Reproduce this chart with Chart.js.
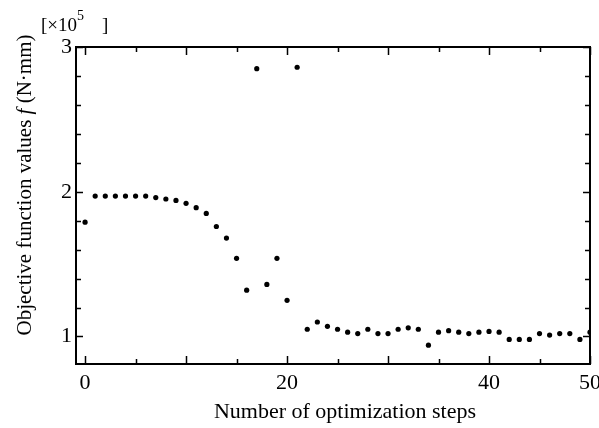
<!DOCTYPE html>
<html>
<head>
<meta charset="utf-8">
<script src="https://cdn.jsdelivr.net/npm/chart.js@4.4.1/dist/chart.umd.min.js"></script>
<style>
  body { margin: 0; background: #fff; }
  #wrap { width: 599px; height: 428px; position: relative; }
</style>
</head>
<body>
<div id="wrap"><canvas id="optChart"></canvas></div>
<script>
// optimization history, f in units of 1e5 N.mm
var steps = [0, 1, 2, 3, 4, 5, 6, 7, 8, 9, 10, 11, 12, 13, 14, 15, 16, 17, 18, 19, 20,
  21, 22, 23, 24, 25, 26, 27, 28, 29, 30, 31, 32, 33, 34, 35, 36, 37, 38, 39, 40,
  41, 42, 43, 44, 45, 46, 47, 48, 49, 50];
var fValues = [1.79, 1.97, 1.97, 1.97, 1.97, 1.97, 1.97, 1.96, 1.95, 1.94, 1.92,
  1.89, 1.85, 1.76, 1.68, 1.54, 1.32, 2.85, 1.36, 1.54, 1.25,
  2.86, 1.05, 1.10, 1.07, 1.05, 1.03, 1.02, 1.05, 1.02, 1.02,
  1.05, 1.06, 1.05, 0.94, 1.03, 1.04, 1.03, 1.02, 1.03, 1.035,
  1.03, 0.98, 0.98, 0.98, 1.02, 1.01, 1.02, 1.02, 0.98, 1.03];

var xTicks = [0, 5, 10, 15, 20, 25, 30, 35, 40, 45, 50];
var xLabels = [0, 20, 40, 50];
var yTicks = [1.0, 1.2, 1.4, 1.6, 1.8, 2.0, 2.2, 2.4, 2.6, 2.8, 3.0];
var yLabels = [1, 2, 3];

var xTitle = "Number of optimization steps";
var yTitle = ["Objective function values ", "f", " (N\u00b7mm)"];

var FONT = "'Liberation Serif', 'DejaVu Serif', serif";

var points = [];
for (var i = 0; i < steps.length; i++) {
  points.push({ x: steps[i], y: fValues[i] });
}

function isLabel(list, v) {
  for (var k = 0; k < list.length; k++) {
    if (Math.abs(list[k] - v) < 1e-6) return true;
  }
  return false;
}

// frame, inward ticks on all four sides, and the titles
var framePlugin = {
  id: "frame",
  afterDatasetsDraw: function (chart) {
    var ctx = chart.ctx;
    var a = chart.chartArea;
    var xs = chart.scales.x, ys = chart.scales.y;
    ctx.save();
    ctx.strokeStyle = "#000";
    ctx.lineWidth = 2;
    ctx.strokeRect(a.left, a.top, a.right - a.left, a.bottom - a.top);

    ctx.lineWidth = 1.5;
    ctx.beginPath();
    xTicks.forEach(function (v) {
      var px = Math.round(xs.getPixelForValue(v)) + 0.5;
      var len = (v % 10 === 0) ? 8 : 5;
      ctx.moveTo(px, a.bottom); ctx.lineTo(px, a.bottom - len);
      ctx.moveTo(px, a.top); ctx.lineTo(px, a.top + len);
    });
    yTicks.forEach(function (v) {
      var py = Math.round(ys.getPixelForValue(v)) + 0.5;
      var len = isLabel(yLabels, v) ? 7 : 5;
      ctx.moveTo(a.left, py); ctx.lineTo(a.left + len, py);
      ctx.moveTo(a.right, py); ctx.lineTo(a.right - len, py);
    });
    ctx.stroke();

    ctx.fillStyle = "#000";
    ctx.textBaseline = "alphabetic";

    // x axis title
    ctx.font = "22px " + FONT;
    ctx.textAlign = "center";
    ctx.fillText(xTitle, 345, 418);

    // y axis title with italic f
    ctx.textAlign = "left";
    var fn = "21px " + FONT, fi = "italic 21px " + FONT;
    ctx.font = fn;
    var w1 = ctx.measureText(yTitle[0]).width, w3 = ctx.measureText(yTitle[2]).width;
    ctx.font = fi;
    var w2 = ctx.measureText(yTitle[1]).width;
    var total = w1 + w2 + w3;
    ctx.save();
    ctx.translate(31, 185);
    ctx.rotate(-Math.PI / 2);
    var sx = -total / 2;
    ctx.font = fn; ctx.fillText(yTitle[0], sx, 0);
    ctx.font = fi; ctx.fillText(yTitle[1], sx + w1, 0);
    ctx.font = fn; ctx.fillText(yTitle[2], sx + w1 + w2, 0);
    ctx.restore();

    // multiplier note
    ctx.font = "19px " + FONT;
    ctx.fillText("[\u00d710", 41, 31);
    ctx.font = "14px " + FONT;
    ctx.fillText("5", 77, 20);
    ctx.font = "19px " + FONT;
    ctx.fillText("]", 102, 31);
    ctx.restore();
  }
};

new Chart(document.getElementById("optChart"), {
  type: "scatter",
  data: {
    datasets: [{
      data: points,
      backgroundColor: "#000",
      borderColor: "#000",
      pointRadius: 2.6,
      pointHoverRadius: 2.6,
      borderWidth: 0
    }]
  },
  options: {
    responsive: true,
    maintainAspectRatio: false,
    animation: false,
    layout: { autoPadding: false, padding: { left: 0, right: 9, top: 47, bottom: 0 } },
    plugins: {
      legend: { display: false },
      tooltip: { enabled: false }
    },
    scales: {
      x: {
        type: "linear",
        min: -0.9,
        max: 50,
        afterBuildTicks: function (axis) {
          axis.ticks = xTicks.map(function (v) { return { value: v }; });
        },
        afterFit: function (axis) {
          axis.height = 64;
          axis.paddingLeft = 0;
          axis.paddingRight = 0;
        },
        grid: { display: false, drawTicks: false },
        border: { display: false },
        ticks: {
          padding: 6,
          color: "#000",
          maxRotation: 0,
          autoSkip: false,
          font: { family: FONT, size: 22 },
          callback: function (v) { return isLabel(xLabels, v) ? String(v) : ""; }
        }
      },
      y: {
        type: "linear",
        min: 0.81,
        max: 3.0,
        afterBuildTicks: function (axis) {
          axis.ticks = yTicks.map(function (v) { return { value: v }; });
        },
        afterFit: function (axis) {
          axis.width = 76;
          axis.paddingTop = 0;
          axis.paddingBottom = 0;
        },
        grid: { display: false, drawTicks: false },
        border: { display: false },
        ticks: {
          padding: 4,
          color: "#000",
          autoSkip: false,
          font: { family: FONT, size: 22 },
          callback: function (v) { return isLabel(yLabels, v) ? String(Math.round(v)) : ""; }
        }
      }
    }
  },
  plugins: [framePlugin]
});
</script>
</body>
</html>
